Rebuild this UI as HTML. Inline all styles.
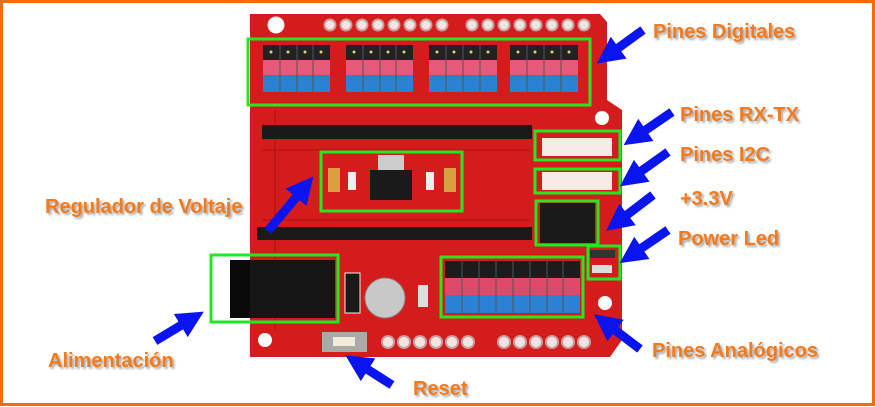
<!DOCTYPE html>
<html><head><style>
body{margin:0;}
#c{position:relative;width:875px;height:407px;background:#fff;overflow:hidden;font-family:"Liberation Sans",sans-serif;}
.t{position:absolute;color:#f47a1c;font-weight:bold;font-size:20px;text-shadow:2px 2px 2px rgba(0,0,0,.35);white-space:nowrap;line-height:22px;}
</style></head><body><div id="c">
<svg width="875" height="407" style="position:absolute;left:0;top:0">
<rect x="1.5" y="1.5" width="872" height="403" fill="none" stroke="#f26b10" stroke-width="3"/>
<polygon points="250,14 600,14 607,22 607,100 622,110 622,340 610,357 250,357" fill="#d41c1c"/>
<path d="M262,150 H530 M262,220 H530 M275,110 V330" stroke="#b01010" stroke-width="1" fill="none"/>
<circle cx="276" cy="25" r="8" fill="#fff" stroke="#eee"/>
<g fill="#f4e4e4" stroke="#c8a0a0" stroke-width="2">
<circle cx="330" cy="25" r="5.5"/><circle cx="346" cy="25" r="5.5"/><circle cx="362" cy="25" r="5.5"/><circle cx="378" cy="25" r="5.5"/><circle cx="394" cy="25" r="5.5"/><circle cx="410" cy="25" r="5.5"/><circle cx="426" cy="25" r="5.5"/><circle cx="442" cy="25" r="5.5"/>
<circle cx="472" cy="25" r="5.5"/><circle cx="488" cy="25" r="5.5"/><circle cx="504" cy="25" r="5.5"/><circle cx="520" cy="25" r="5.5"/><circle cx="536" cy="25" r="5.5"/><circle cx="552" cy="25" r="5.5"/><circle cx="568" cy="25" r="5.5"/><circle cx="584" cy="25" r="5.5"/>
<circle cx="388" cy="342" r="6"/><circle cx="404" cy="342" r="6"/><circle cx="420" cy="342" r="6"/><circle cx="436" cy="342" r="6"/><circle cx="452" cy="342" r="6"/><circle cx="468" cy="342" r="6"/>
<circle cx="504" cy="342" r="6"/><circle cx="520" cy="342" r="6"/><circle cx="536" cy="342" r="6"/><circle cx="552" cy="342" r="6"/><circle cx="568" cy="342" r="6"/><circle cx="584" cy="342" r="6"/>
</g>
<circle cx="265" cy="340" r="7" fill="#fff"/><circle cx="605" cy="303" r="7" fill="#fff"/><circle cx="602" cy="118" r="7" fill="#fff"/>
<g>
<rect x="263" y="45" width="67" height="15" fill="#222"/><rect x="263" y="60" width="67" height="15" fill="#e45a78"/><rect x="263" y="75" width="67" height="17" fill="#2b82d4"/>
<rect x="346" y="45" width="67" height="15" fill="#222"/><rect x="346" y="60" width="67" height="15" fill="#e45a78"/><rect x="346" y="75" width="67" height="17" fill="#2b82d4"/>
<rect x="429" y="45" width="68" height="15" fill="#222"/><rect x="429" y="60" width="68" height="15" fill="#e45a78"/><rect x="429" y="75" width="68" height="17" fill="#2b82d4"/>
<rect x="510" y="45" width="68" height="15" fill="#222"/><rect x="510" y="60" width="68" height="15" fill="#e45a78"/><rect x="510" y="75" width="68" height="17" fill="#2b82d4"/>
</g>
<g stroke="#555" stroke-width="1">
<path d="M280,45V92 M297,45V92 M313,45V92 M363,45V92 M380,45V92 M396,45V92 M446,45V92 M463,45V92 M480,45V92 M527,45V92 M544,45V92 M561,45V92"/>
<path d="M462,261V313 M479,261V313 M496,261V313 M513,261V313 M530,261V313 M547,261V313 M563,261V313"/>
</g>
<g fill="#e8d070">
<circle cx="271" cy="52" r="1.5"/><circle cx="288" cy="52" r="1.5"/><circle cx="305" cy="52" r="1.5"/><circle cx="321" cy="52" r="1.5"/>
<circle cx="354" cy="52" r="1.5"/><circle cx="371" cy="52" r="1.5"/><circle cx="388" cy="52" r="1.5"/><circle cx="404" cy="52" r="1.5"/>
<circle cx="437" cy="52" r="1.5"/><circle cx="454" cy="52" r="1.5"/><circle cx="471" cy="52" r="1.5"/><circle cx="488" cy="52" r="1.5"/>
<circle cx="518" cy="52" r="1.5"/><circle cx="535" cy="52" r="1.5"/><circle cx="552" cy="52" r="1.5"/><circle cx="569" cy="52" r="1.5"/>
</g>
<rect x="445" y="261" width="135" height="17" fill="#1c1c1c" fill-opacity="1"/>
<rect x="445" y="278" width="135" height="17" fill="#e04a6a"/><rect x="445" y="295" width="135" height="18" fill="#2b82d4"/>
<g stroke="#555" stroke-width="1"><path d="M462,261V313 M479,261V313 M496,261V313 M513,261V313 M530,261V313 M547,261V313 M563,261V313"/></g>
<rect x="262" y="125" width="270" height="14" fill="#1a1a1a"/>
<rect x="257" y="227" width="275" height="13" fill="#1a1a1a"/>
<rect x="370" y="170" width="42" height="30" fill="#1a1a1a"/><rect x="378" y="155" width="26" height="15" fill="#ccc"/>
<rect x="328" y="168" width="12" height="24" fill="#d8a040"/><rect x="444" y="168" width="12" height="24" fill="#d8a040"/>
<rect x="348" y="172" width="8" height="18" fill="#eee"/><rect x="426" y="172" width="8" height="18" fill="#eee"/>
<rect x="542" y="138" width="70" height="18" fill="#f4ece4"/><rect x="542" y="172" width="70" height="18" fill="#f4ece4"/>
<rect x="540" y="203" width="55" height="40" fill="#1a1a1a"/>
<rect x="590" y="250" width="25" height="8" fill="#333"/><rect x="592" y="265" width="20" height="8" fill="#ddd"/>
<rect x="230" y="260" width="105" height="58" fill="#151515"/><rect x="230" y="260" width="20" height="58" fill="#0a0a0a"/>
<rect x="345" y="273" width="15" height="40" fill="#1a1a1a" stroke="#eee"/>
<circle cx="385" cy="298" r="20" fill="#c8c8c8" stroke="#888"/>
<rect x="418" y="285" width="10" height="22" fill="#ddd"/>
<rect x="322" y="332" width="45" height="20" fill="#aaa"/><rect x="333" y="337" width="22" height="9" fill="#f2ecd8"/>
<g fill="none" stroke="#22e822" stroke-width="3">
<rect x="248" y="39" width="342" height="66"/>
<rect x="321" y="152" width="141" height="59"/>
<rect x="535" y="131" width="85" height="29"/>
<rect x="535" y="169" width="85" height="24"/>
<rect x="536" y="201" width="62" height="44"/>
<rect x="588" y="246" width="32" height="33"/>
<rect x="441" y="257" width="142" height="60"/>
<rect x="211" y="255" width="127" height="67"/>
</g>
<defs><marker id="a" markerWidth="3" markerHeight="3" refX="1.2" refY="1.5" orient="auto" markerUnits="strokeWidth"><polygon points="0,0 3,1.5 0,3" fill="#0a14ee"/></marker></defs>
<g stroke="#0a14ee" stroke-width="9" marker-end="url(#a)">
<line x1="643" y1="30" x2="610" y2="54"/>
<line x1="672" y1="112" x2="637" y2="136"/>
<line x1="668" y1="152" x2="633" y2="177"/>
<line x1="653" y1="195" x2="619" y2="221"/>
<line x1="668" y1="230" x2="633" y2="254"/>
<line x1="640" y1="349" x2="607" y2="324"/>
<line x1="268" y1="231" x2="303" y2="189"/>
<line x1="155" y1="341" x2="190" y2="320"/>
<line x1="392" y1="385" x2="359" y2="364"/>
</g>
</svg>
<div class="t" style="left:653px;top:21px">Pines Digitales</div>
<div class="t" style="left:680px;top:104px">Pines RX-TX</div>
<div class="t" style="left:680px;top:144px">Pines I2C</div>
<div class="t" style="left:680px;top:188px">+3.3V</div>
<div class="t" style="left:678px;top:228px">Power Led</div>
<div class="t" style="left:652px;top:340px">Pines Analógicos</div>
<div class="t" style="left:45px;top:196px">Regulador de Voltaje</div>
<div class="t" style="left:48px;top:350px">Alimentación</div>
<div class="t" style="left:413px;top:378px">Reset</div>
</div></body></html>
